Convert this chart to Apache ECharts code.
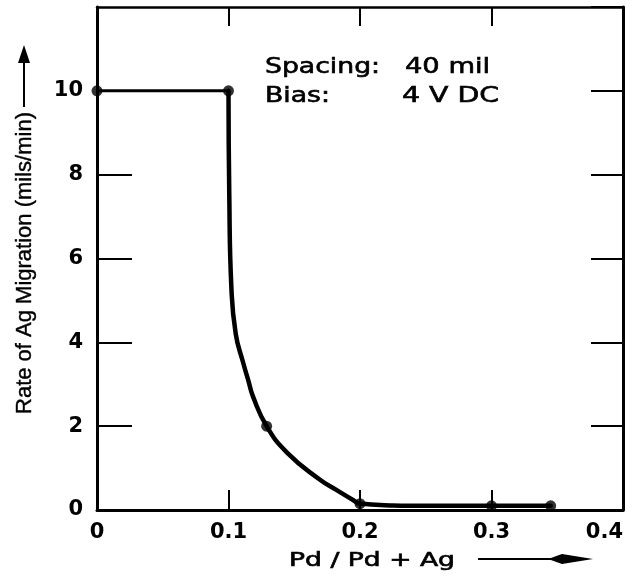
<!DOCTYPE html>
<html>
<head>
<meta charset="utf-8">
<script src="https://cdn.jsdelivr.net/npm/echarts@6/dist/echarts.min.js"></script>
<style>
  html, body { margin: 0; padding: 0; background: #fff; }
  #chart { width: 636px; height: 576px; }
</style>
</head>
<body>
<div id="chart"></div>
<script>
// ---- data ----
const flatX = [0, 0.1];
const flatY = [10, 10];
const curveX = [0.1, 0.1006, 0.1022, 0.1055, 0.111, 0.115, 0.1186, 0.129, 0.1445, 0.1696, 0.182, 0.1947, 0.2, 0.25, 0.3, 0.345];
const curveY = [10, 7.5, 5.3, 4.2, 3.53, 3.1, 2.71, 2.0, 1.37, 0.72, 0.48, 0.24, 0.15, 0.1, 0.1, 0.1];
const pointX = [0, 0.1, 0.129, 0.2, 0.3, 0.345];
const pointY = [10, 10, 2, 0.15, 0.1, 0.1];
const xTicks = { min: 0, max: 0.4, interval: 0.1 };
const yTicks = { min: 0, max: 12, interval: 2 };
const yTitle = 'Rate of Ag Migration (mils/min)';
const xTitle = 'Pd / Pd + Ag';
const noteLabels = ['Spacing:', 'Bias:'];
const noteValues = ['40 mil', '4 V DC'];

const zip = (a, b) => a.map((v, i) => [v, b[i]]);
const chart = echarts.init(document.getElementById('chart'), null, { renderer: 'canvas' });

const tickFont = { fontFamily: 'DejaVu Sans', fontWeight: 'bold', fontSize: 21, color: '#000' };
const noteStyle = { fontFamily: 'DejaVu Sans', fontSize: 21, fill: '#000', stroke: '#000', lineWidth: 0.6,
                    align: 'left', verticalAlign: 'middle' };

const option = {
  animation: false,
  backgroundColor: '#fff',
  grid: { left: 97, right: 13, top: 7, bottom: 66, outerBoundsMode: 'none', containLabel: false },
  xAxis: [
    {
      type: 'value', position: 'bottom', ...xTicks,
      axisLine: { show: true, onZero: false, lineStyle: { color: '#000', width: 3 } },
      axisTick: { show: true, inside: true, length: 20, lineStyle: { color: '#000', width: 2 } },
      axisLabel: { ...tickFont, margin: 12, alignMaxLabel: 'right' },
      splitLine: { show: false }
    },
    {
      type: 'value', position: 'top', ...xTicks,
      axisLine: { show: true, onZero: false, lineStyle: { color: '#000', width: 2.5 } },
      axisTick: { show: true, inside: true, length: 19, lineStyle: { color: '#000', width: 2 } },
      axisLabel: { show: false },
      splitLine: { show: false }
    }
  ],
  yAxis: [
    {
      type: 'value', position: 'left', ...yTicks,
      axisLine: { show: true, onZero: false, lineStyle: { color: '#000', width: 3 } },
      axisTick: { show: true, inside: true, length: 35, lineStyle: { color: '#000', width: 2 } },
      axisLabel: { ...tickFont, margin: 14, showMaxLabel: false },
      splitLine: { show: false }
    },
    {
      type: 'value', position: 'right', ...yTicks,
      axisLine: { show: true, onZero: false, lineStyle: { color: '#000', width: 3 } },
      axisTick: { show: true, inside: true, length: 32, lineStyle: { color: '#000', width: 2 } },
      axisLabel: { show: false },
      splitLine: { show: false }
    }
  ],
  series: [
    {
      type: 'line', data: zip(flatX, flatY), showSymbol: false, symbol: 'none',
      lineStyle: { color: '#000', width: 3 }, clip: false, z: 3
    },
    {
      type: 'line', data: zip(curveX, curveY), showSymbol: false, symbol: 'none',
      smooth: 0.5,
      lineStyle: { color: '#000', width: 4.5, cap: 'round', join: 'round' }, clip: false, z: 3
    },
    {
      type: 'scatter', data: zip(pointX, pointY), symbol: 'circle', symbolSize: 11,
      itemStyle: { color: '#000' }, clip: false, z: 4
    }
  ],
  graphic: [
    // y-axis title and arrow
    {
      type: 'text', x: 25, y: 263, rotation: Math.PI / 2,
      style: { text: yTitle, fontFamily: 'Liberation Sans', fontSize: 22, fill: '#000', stroke: '#000', lineWidth: 0.4,
               align: 'center', verticalAlign: 'middle' }
    },
    { type: 'line', shape: { x1: 24, y1: 107, x2: 24, y2: 58 }, style: { stroke: '#000', lineWidth: 2 } },
    { type: 'polygon', shape: { points: [[24, 45], [18, 63], [30, 63]] }, style: { fill: '#000' } },
    // x-axis title and arrow
    {
      type: 'text', x: 289, y: 561, scaleX: 1.4,
      style: { text: xTitle, fontFamily: 'DejaVu Sans', fontSize: 19, fill: '#000', stroke: '#000', lineWidth: 0.6,
               align: 'left', verticalAlign: 'middle' }
    },
    { type: 'line', shape: { x1: 478, y1: 559, x2: 560, y2: 559 }, style: { stroke: '#000', lineWidth: 2 } },
    { type: 'polygon', shape: { points: [[548, 559], [562, 554], [593, 559], [562, 564]] }, style: { fill: '#000' } },
    // annotation
    { type: 'text', x: 265, y: 68, scaleX: 1.27, style: { ...noteStyle, text: noteLabels[0] } },
    { type: 'text', x: 405, y: 68, scaleX: 1.3, style: { ...noteStyle, text: noteValues[0] } },
    { type: 'text', x: 265, y: 97, scaleX: 1.27, style: { ...noteStyle, text: noteLabels[1] } },
    { type: 'text', x: 402, y: 97, scaleX: 1.35, style: { ...noteStyle, text: noteValues[1] } }
  ]
};
chart.setOption(option);
</script>
</body>
</html>
